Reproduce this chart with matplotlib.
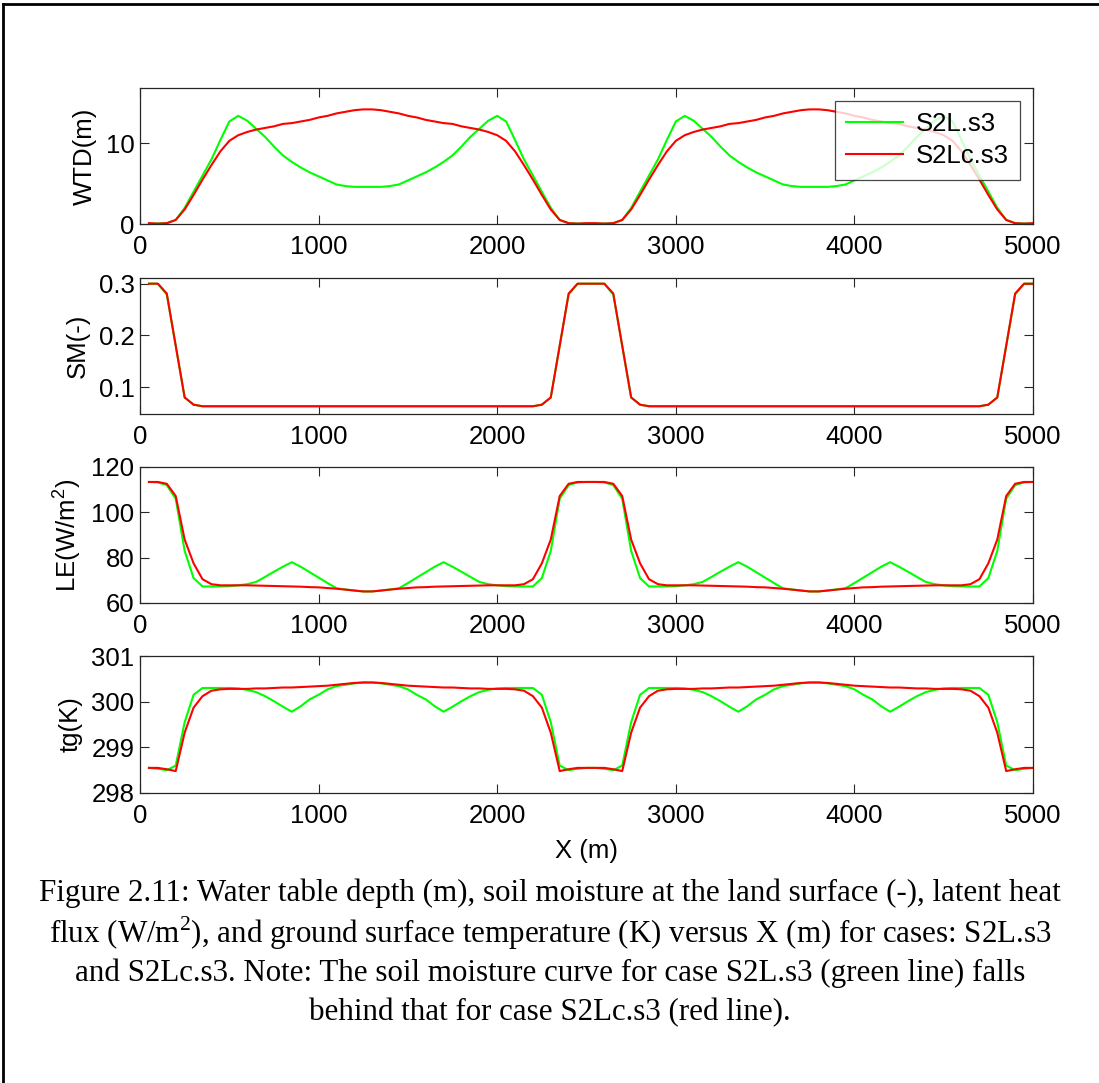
import numpy as np
import matplotlib
matplotlib.use("Agg")
import matplotlib.pyplot as plt
from matplotlib.lines import Line2D

plt.rcParams['font.family'] = ['Liberation Sans', 'DejaVu Sans']
plt.rcParams['mathtext.fontset'] = 'custom'
plt.rcParams['mathtext.rm'] = 'Liberation Serif'
plt.rcParams['mathtext.sf'] = 'Liberation Sans'

# ---------------- data ----------------
x = np.arange(50, 5001, 50)
series_names = ["S2L.s3", "S2Lc.s3"]

wtd_s2l = [0.05, 0.05, 0.1, 0.5, 2.0, 4.0, 6.0, 8.0, 10.4, 12.7, 13.4, 12.8, 11.8, 10.8, 9.6, 8.5, 7.7, 7.0, 6.4, 5.9, 5.4, 4.9, 4.7, 4.6, 4.6,
           4.6, 4.6, 4.7, 4.9, 5.4, 5.9, 6.4, 7.0, 7.7, 8.5, 9.6, 10.8, 11.8, 12.8, 13.4, 12.7, 10.4, 8.0, 6.0, 4.0, 2.0, 0.5, 0.1, 0.05, 0.05,
           0.05, 0.05, 0.1, 0.5, 2.0, 4.0, 6.0, 8.0, 10.4, 12.7, 13.4, 12.8, 11.8, 10.8, 9.6, 8.5, 7.7, 7.0, 6.4, 5.9, 5.4, 4.9, 4.7, 4.6, 4.6,
           4.6, 4.6, 4.7, 4.9, 5.4, 5.9, 6.4, 7.0, 7.7, 8.5, 9.6, 10.8, 11.8, 12.8, 13.4, 12.7, 10.4, 8.0, 6.0, 4.0, 2.0, 0.5, 0.1, 0.05, 0.05]
wtd_s2lc = [0.1, 0.05, 0.1, 0.5, 1.8, 3.6, 5.5, 7.3, 9.0, 10.3, 11.0, 11.4, 11.7, 11.9, 12.1, 12.4, 12.5, 12.7, 12.9, 13.2, 13.4, 13.7, 13.9, 14.1, 14.2,
            14.2, 14.1, 13.9, 13.7, 13.4, 13.2, 12.9, 12.7, 12.5, 12.4, 12.1, 11.9, 11.7, 11.4, 11.0, 10.3, 9.0, 7.3, 5.5, 3.6, 1.8, 0.5, 0.1, 0.05, 0.1,
            0.1, 0.05, 0.1, 0.5, 1.8, 3.6, 5.5, 7.3, 9.0, 10.3, 11.0, 11.4, 11.7, 11.9, 12.1, 12.4, 12.5, 12.7, 12.9, 13.2, 13.4, 13.7, 13.9, 14.1, 14.2,
            14.2, 14.1, 13.9, 13.7, 13.4, 13.2, 12.9, 12.7, 12.5, 12.4, 12.1, 11.9, 11.7, 11.4, 11.0, 10.3, 9.0, 7.3, 5.5, 3.6, 1.8, 0.5, 0.1, 0.05, 0.1]

sm_s2l = [0.300, 0.300, 0.279, 0.180, 0.080, 0.066, 0.063, 0.063, 0.063, 0.063, 0.063, 0.063, 0.063, 0.063, 0.063, 0.063, 0.063, 0.063, 0.063, 0.063, 0.063, 0.063, 0.063, 0.063, 0.063,
          0.063, 0.063, 0.063, 0.063, 0.063, 0.063, 0.063, 0.063, 0.063, 0.063, 0.063, 0.063, 0.063, 0.063, 0.063, 0.063, 0.063, 0.063, 0.063, 0.066, 0.080, 0.180, 0.279, 0.300, 0.300,
          0.300, 0.300, 0.279, 0.180, 0.080, 0.066, 0.063, 0.063, 0.063, 0.063, 0.063, 0.063, 0.063, 0.063, 0.063, 0.063, 0.063, 0.063, 0.063, 0.063, 0.063, 0.063, 0.063, 0.063, 0.063,
          0.063, 0.063, 0.063, 0.063, 0.063, 0.063, 0.063, 0.063, 0.063, 0.063, 0.063, 0.063, 0.063, 0.063, 0.063, 0.063, 0.063, 0.063, 0.063, 0.066, 0.080, 0.180, 0.279, 0.300, 0.300]
sm_s2lc = [0.300, 0.300, 0.281, 0.180, 0.080, 0.066, 0.063, 0.063, 0.063, 0.063, 0.063, 0.063, 0.063, 0.063, 0.063, 0.063, 0.063, 0.063, 0.063, 0.063, 0.063, 0.063, 0.063, 0.063, 0.063,
           0.063, 0.063, 0.063, 0.063, 0.063, 0.063, 0.063, 0.063, 0.063, 0.063, 0.063, 0.063, 0.063, 0.063, 0.063, 0.063, 0.063, 0.063, 0.063, 0.066, 0.080, 0.180, 0.281, 0.300, 0.300,
           0.300, 0.300, 0.281, 0.180, 0.080, 0.066, 0.063, 0.063, 0.063, 0.063, 0.063, 0.063, 0.063, 0.063, 0.063, 0.063, 0.063, 0.063, 0.063, 0.063, 0.063, 0.063, 0.063, 0.063, 0.063,
           0.063, 0.063, 0.063, 0.063, 0.063, 0.063, 0.063, 0.063, 0.063, 0.063, 0.063, 0.063, 0.063, 0.063, 0.063, 0.063, 0.063, 0.063, 0.063, 0.066, 0.080, 0.180, 0.281, 0.300, 0.300]

le_s2l = [113.4, 113.2, 112.0, 106.0, 83.0, 71.0, 67.3, 67.3, 67.3, 67.4, 67.8, 68.3, 69.3, 71.5, 73.8, 76.0, 78.0, 76.0, 73.6, 71.2, 68.8, 66.5, 66.0, 65.5, 65.1,
          65.1, 65.5, 66.0, 66.5, 68.8, 71.2, 73.6, 76.0, 78.0, 76.0, 73.8, 71.5, 69.3, 68.3, 67.8, 67.4, 67.3, 67.3, 67.3, 71.0, 83.0, 106.0, 112.0, 113.2, 113.4,
          113.4, 113.2, 112.0, 106.0, 83.0, 71.0, 67.3, 67.3, 67.3, 67.4, 67.8, 68.3, 69.3, 71.5, 73.8, 76.0, 78.0, 76.0, 73.6, 71.2, 68.8, 66.5, 66.0, 65.5, 65.1,
          65.1, 65.5, 66.0, 66.5, 68.8, 71.2, 73.6, 76.0, 78.0, 76.0, 73.8, 71.5, 69.3, 68.3, 67.8, 67.4, 67.3, 67.3, 67.3, 71.0, 83.0, 106.0, 112.0, 113.2, 113.4]
le_s2lc = [113.4, 113.4, 112.6, 107.2, 88.0, 77.5, 70.5, 68.3, 67.8, 67.8, 67.8, 67.8, 67.7, 67.6, 67.5, 67.4, 67.3, 67.2, 67.0, 66.9, 66.6, 66.3, 65.9, 65.5, 65.1,
           65.1, 65.5, 65.9, 66.3, 66.6, 66.9, 67.0, 67.2, 67.3, 67.4, 67.5, 67.6, 67.7, 67.8, 67.8, 67.8, 67.8, 68.3, 70.5, 77.5, 88.0, 107.2, 112.6, 113.4, 113.4,
           113.4, 113.4, 112.6, 107.2, 88.0, 77.5, 70.5, 68.3, 67.8, 67.8, 67.8, 67.8, 67.7, 67.6, 67.5, 67.4, 67.3, 67.2, 67.0, 66.9, 66.6, 66.3, 65.9, 65.5, 65.1,
           65.1, 65.5, 65.9, 66.3, 66.6, 66.9, 67.0, 67.2, 67.3, 67.4, 67.5, 67.6, 67.7, 67.8, 67.8, 67.8, 67.8, 68.3, 70.5, 77.5, 88.0, 107.2, 112.6, 113.4, 113.4]

tg_s2l = [298.55, 298.53, 298.50, 298.60, 299.55, 300.15, 300.30, 300.30, 300.30, 300.30, 300.29, 300.26, 300.21, 300.12, 300.01, 299.89, 299.78, 299.90, 300.05, 300.15, 300.27, 300.34, 300.37, 300.40, 300.42,
          300.42, 300.40, 300.37, 300.34, 300.27, 300.15, 300.05, 299.90, 299.78, 299.89, 300.01, 300.12, 300.21, 300.26, 300.29, 300.30, 300.30, 300.30, 300.30, 300.15, 299.55, 298.60, 298.50, 298.53, 298.55,
          298.55, 298.53, 298.50, 298.60, 299.55, 300.15, 300.30, 300.30, 300.30, 300.30, 300.29, 300.26, 300.21, 300.12, 300.01, 299.89, 299.78, 299.90, 300.05, 300.15, 300.27, 300.34, 300.37, 300.40, 300.42,
          300.42, 300.40, 300.37, 300.34, 300.27, 300.15, 300.05, 299.90, 299.78, 299.89, 300.01, 300.12, 300.21, 300.26, 300.29, 300.30, 300.30, 300.30, 300.30, 300.15, 299.55, 298.60, 298.50, 298.53, 298.55]
tg_s2lc = [298.55, 298.55, 298.52, 298.48, 299.32, 299.87, 300.12, 300.24, 300.27, 300.28, 300.28, 300.28, 300.29, 300.29, 300.30, 300.31, 300.31, 300.32, 300.33, 300.34, 300.35, 300.37, 300.39, 300.41, 300.42,
           300.42, 300.41, 300.39, 300.37, 300.35, 300.34, 300.33, 300.32, 300.31, 300.31, 300.30, 300.29, 300.29, 300.28, 300.28, 300.28, 300.27, 300.24, 300.12, 299.87, 299.32, 298.48, 298.52, 298.55, 298.55,
           298.55, 298.55, 298.52, 298.48, 299.32, 299.87, 300.12, 300.24, 300.27, 300.28, 300.28, 300.28, 300.29, 300.29, 300.30, 300.31, 300.31, 300.32, 300.33, 300.34, 300.35, 300.37, 300.39, 300.41, 300.42,
           300.42, 300.41, 300.39, 300.37, 300.35, 300.34, 300.33, 300.32, 300.31, 300.31, 300.30, 300.29, 300.29, 300.28, 300.28, 300.28, 300.27, 300.24, 300.12, 299.87, 299.32, 298.48, 298.52, 298.55, 298.55]

ylabels = ["WTD(m)", "SM(-)", r"LE(W/m$^{\mathsf{2}}$)", "tg(K)"]
ylims = [(0, 16.85), (0.048, 0.311), (60, 120), (298, 301)]
yticks = [[0, 10], [0.1, 0.2, 0.3], [60, 80, 100, 120], [298, 299, 300, 301]]
yticklabels = [["0", "10"], ["0.1", "0.2", "0.3"], ["60", "80", "100", "120"], ["298", "299", "300", "301"]]
xticks = [0, 1000, 2000, 3000, 4000, 5000]
caption_lines = [
    "Figure 2.11: Water table depth (m), soil moisture at the land surface (-), latent heat",
    r"flux (W/m$^{\mathrm{2}}$), and ground surface temperature (K) versus X (m) for cases: S2L.s3",
    "and S2Lc.s3. Note: The soil moisture curve for case S2L.s3 (green line) falls",
    "behind that for case S2Lc.s3 (red line).",
]

# ---------------- figure ----------------
W, H = 1099, 1083
fig = plt.figure(figsize=(W / 100, H / 100), dpi=100)

left_px, right_px = 140, 1033
tops = [88, 278, 467, 656]
bottoms = [224, 414, 603, 793]
data = [(wtd_s2l, wtd_s2lc), (sm_s2l, sm_s2lc), (le_s2l, le_s2lc), (tg_s2l, tg_s2lc)]

FS = 18.5
axes = []
for i in range(4):
    ax = fig.add_axes([left_px / W, 1 - bottoms[i] / H, (right_px - left_px) / W, (bottoms[i] - tops[i]) / H])
    g, r = data[i]
    ax.plot(x, g, color=(0, 1, 0), lw=1.5, label=series_names[0])
    ax.plot(x, r, color=(1, 0, 0), lw=1.5, label=series_names[1])
    ax.set_xlim(0, 5000)
    ax.set_ylim(*ylims[i])
    ax.set_xticks(xticks)
    ax.set_xticklabels([str(t) for t in xticks])
    ax.set_yticks(yticks[i])
    ax.set_yticklabels(yticklabels[i])
    ax.tick_params(direction='in', length=6.5, width=0.8, top=True, right=True,
                   labelsize=FS, color='0.15')
    ax.tick_params(axis='x', pad=8)
    ax.tick_params(axis='y', pad=4)
    for s in ax.spines.values():
        s.set_color('0.15')
        s.set_linewidth(0.9)
    ax.set_ylabel(ylabels[i], fontsize=FS, labelpad=6)
    axes.append(ax)

axes[-1].set_xlabel("X (m)", fontsize=FS, labelpad=8)

leg = axes[0].legend(loc='upper right', fontsize=FS, frameon=True, fancybox=False,
                     edgecolor='0.1', handlelength=2.2, borderaxespad=0.5,
                     borderpad=0.45, handletextpad=0.5, labelspacing=0.3)
leg.get_frame().set_linewidth(0.9)

# caption
ys = [893, 933, 973, 1013]
for line, yy in zip(caption_lines, ys):
    fig.text(550 / W, 1 - yy / H, line, ha='center', va='center',
             fontsize=22.3, family='Liberation Serif')

# outer frame (top and left)
fig.add_artist(Line2D([3 / W, 1], [1 - 4 / H, 1 - 4 / H], transform=fig.transFigure, color='black', lw=2))
fig.add_artist(Line2D([3 / W, 3 / W], [0, 1 - 4 / H], transform=fig.transFigure, color='black', lw=2))

fig.savefig("out.png", dpi=100)
